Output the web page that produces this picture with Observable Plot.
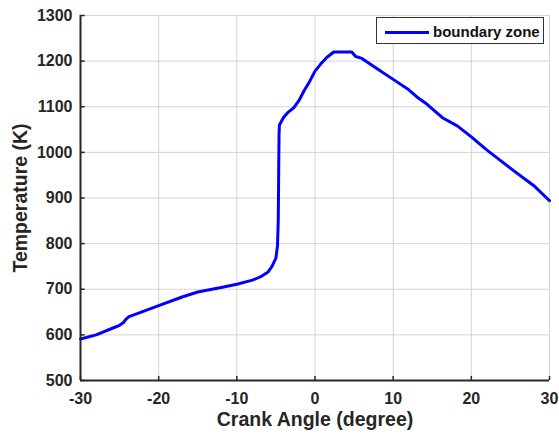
<!DOCTYPE html>
<html>
<head>
<meta charset="utf-8">
<script src="https://cdn.jsdelivr.net/npm/d3@7"></script>
<script src="https://cdn.jsdelivr.net/npm/@observablehq/plot@0.6"></script>
<style>
  html, body { margin: 0; padding: 0; background: #fff; }
  #wrap { position: relative; width: 559px; height: 434px; font-family: "Liberation Sans", Arial, sans-serif; }
  #legend { position: absolute; left: 376px; top: 17px; width: 168px; height: 27px; border: 1px solid #333; background: #fff; box-sizing: border-box; }
  #legend .sw { position: absolute; left: 8px; top: 13px; width: 44px; height: 3px; background: #0000ff; }
  #legend .tx { position: absolute; left: 56px; top: 5px; line-height: 15px; font: bold 15px "Liberation Sans", Arial, sans-serif; color: #111; }
</style>
</head>
<body>
<div id="wrap"><div id="legend"><div class="sw"></div><div class="tx">boundary zone</div></div></div>
<script>
const crankAngle = [-30,-28,-26,-25,-24.5,-24.2,-23.8,-23,-20,-17,-15,-12,-10,-8,-7,-6,-5.5,-5.0,-4.8,-4.7,-4.65,-4.6,-4.55,-4.3,-4.0,-3.5,-2.7,-2,-1.4,-0.7,0,0.7,1.5,2.4,4.7,5.2,6,8,10,12,13,14.3,16.3,18.2,20,22,25.4,28,30];
const temperature = [591,600,614,621,627,634,640,645,664,683,694,704,711,720,727,738,750,768,795,850,950,1040,1060,1068,1077,1087,1098,1115,1135,1155,1178,1193,1208,1220,1220,1210,1206,1183,1160,1137,1122,1106,1076,1058,1034,1005,960,927,894];
const seriesName = "boundary zone";
const xTicks = [-30,-20,-10,0,10,20,30];
const yTicks = [500,600,700,800,900,1000,1100,1200,1300];

const data = crankAngle.map((x, i) => ({x, y: temperature[i]}));
const axisColor = "#262626";
const fmt = d => String(d);

const chart = Plot.plot({
  width: 559,
  height: 434,
  marginLeft: 80,
  marginRight: 10,
  marginTop: 15,
  marginBottom: 54,
  style: { fontFamily: "'Liberation Sans', Arial, sans-serif", fontWeight: "bold", fontSize: "16px", color: axisColor, background: "transparent" },
  x: { domain: [-30, 30], ticks: xTicks, tickFormat: fmt },
  y: { domain: [500, 1300], ticks: yTicks, tickFormat: fmt },
  marks: [
    Plot.gridX(xTicks, { stroke: "#d4d4d4", strokeOpacity: 1, strokeWidth: 1 }),
    Plot.gridY(yTicks, { stroke: "#d4d4d4", strokeOpacity: 1, strokeWidth: 1 }),
    Plot.line(data, { x: "x", y: "y", stroke: "#0000ff", strokeWidth: 3 }),
    Plot.ruleX(xTicks, { y1: 500, y2: 509, stroke: axisColor, strokeWidth: 1.5 }),
    Plot.ruleY(yTicks, { x1: -30, x2: -29.4, stroke: axisColor, strokeWidth: 1.5 }),
    Plot.ruleX([-30], { stroke: axisColor, strokeWidth: 2 }),
    Plot.ruleY([500], { stroke: axisColor, strokeWidth: 2 }),
    Plot.axisX(xTicks, { tickSize: 0, tickPadding: 12, fontSize: 16, fontWeight: "bold", tickFormat: fmt, label: "Crank Angle (degree)", labelAnchor: "center", labelOffset: 45, labelArrow: "none" }),
    Plot.axisY(yTicks, { tickSize: 0, tickPadding: 8, fontSize: 16, fontWeight: "bold", tickFormat: fmt, label: "Temperature (K)", labelAnchor: "center", labelOffset: 67, labelArrow: "none" })
  ]
});
chart.querySelectorAll("g[aria-label='x-axis label'] text, g[aria-label='y-axis label'] text").forEach(t => { t.style.fontSize = "19.5px"; t.style.fontWeight = "bold"; });
document.getElementById("wrap").prepend(chart);
</script>
</body>
</html>
